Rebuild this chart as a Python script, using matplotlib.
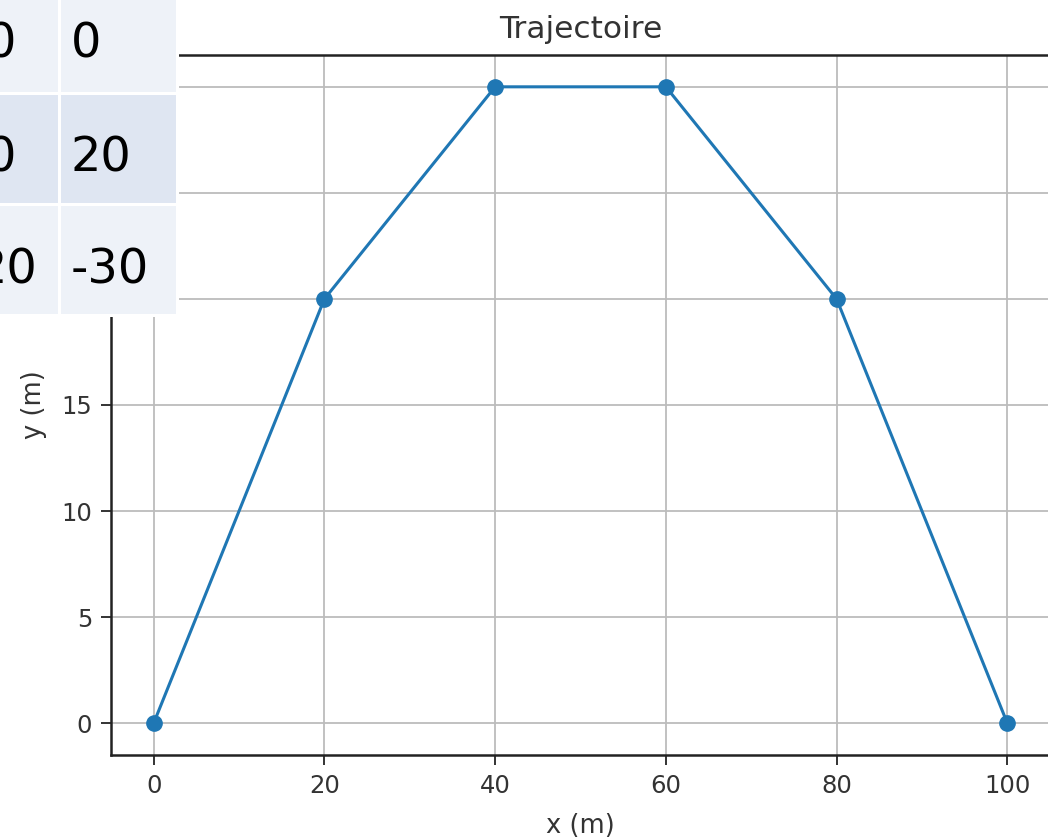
import matplotlib
matplotlib.use("Agg")
import matplotlib.pyplot as plt
from matplotlib.patches import Rectangle

# ---- data ----
x_vals = [0, 20, 40, 60, 80, 100]
y_vals = [0, 20, 30, 30, 20, 0]
x_ticks = [0, 20, 40, 60, 80, 100]
y_ticks = [0, 5, 10, 15, 20, 25, 30]
title = "Trajectoire"
xlabel = "x (m)"
ylabel = "y (m)"
# overlaid table (left column is cropped by the image edge)
table_col1 = ["0", "0", "20"]
table_col2 = ["0", "20", "-30"]

W, H = 1048, 838
fig = plt.figure(figsize=(W / 100, H / 100), dpi=100)
fig.patch.set_facecolor("white")

ax = fig.add_axes([111 / W, 1 - 755 / H, (1050 - 111) / W, (755 - 55) / H])
ax.plot(x_vals, y_vals, color="#1f77b4", lw=2.2, marker="o", ms=11)
ax.set_xlim(-5, 105)
ax.set_ylim(-1.5, 31.5)
ax.set_xticks(x_ticks)
ax.set_yticks(y_ticks)
ax.grid(True, color="#bcbcbc", lw=1.3)
ax.tick_params(labelsize=17.5, length=7.5, width=1.4, pad=6,
               colors="#333333", labelcolor="#333333")
for s in ax.spines.values():
    s.set_linewidth(1.8)
    s.set_color("#222222")
ax.set_title(title, fontsize=22.5, color="#333333", pad=12)
ax.set_xlabel(xlabel, fontsize=18.5, color="#333333")
ax.set_ylabel(ylabel, fontsize=18.5, color="#333333")
ax.xaxis.set_label_coords(0.5, -0.083)
ax.yaxis.set_label_coords(-0.068, 0.5)

# tick labels for 20, 25, 30 sit underneath the overlaid table in the reference
for tk, v in zip(ax.yaxis.get_major_ticks(), y_ticks):
    if v >= 20:
        tk.label1.set_visible(False)

# overlay layer in pixel coordinates for the table
ov = fig.add_axes([0, 0, 1, 1], zorder=10)
ov.set_xlim(0, W)
ov.set_ylim(H, 0)
ov.axis("off")
ov.patch.set_alpha(0)

row_tops = [-16, 95, 206]
row_h = 108
row_colors = ["#eef2f8", "#dfe6f2", "#eef2f8"]
col1 = (-60, 58)
col2 = (61, 176)
baselines = [58, 171, 283]
col1_right = [16, 16, 37]
ov.add_patch(Rectangle((-60, -20), 239, 337, facecolor="white", edgecolor="none"))
for i in range(3):
    for (x0, x1) in (col1, col2):
        ov.add_patch(Rectangle((x0, row_tops[i]), x1 - x0, row_h,
                               facecolor=row_colors[i], edgecolor="none"))
    ov.text(col1_right[i], baselines[i], table_col1[i], fontsize=34.5,
            ha="right", va="baseline", color="black", family="DejaVu Sans")
    ov.text(71, baselines[i], table_col2[i], fontsize=34.5,
            ha="left", va="baseline", color="black", family="DejaVu Sans")

fig.savefig("out.png", dpi=100)
